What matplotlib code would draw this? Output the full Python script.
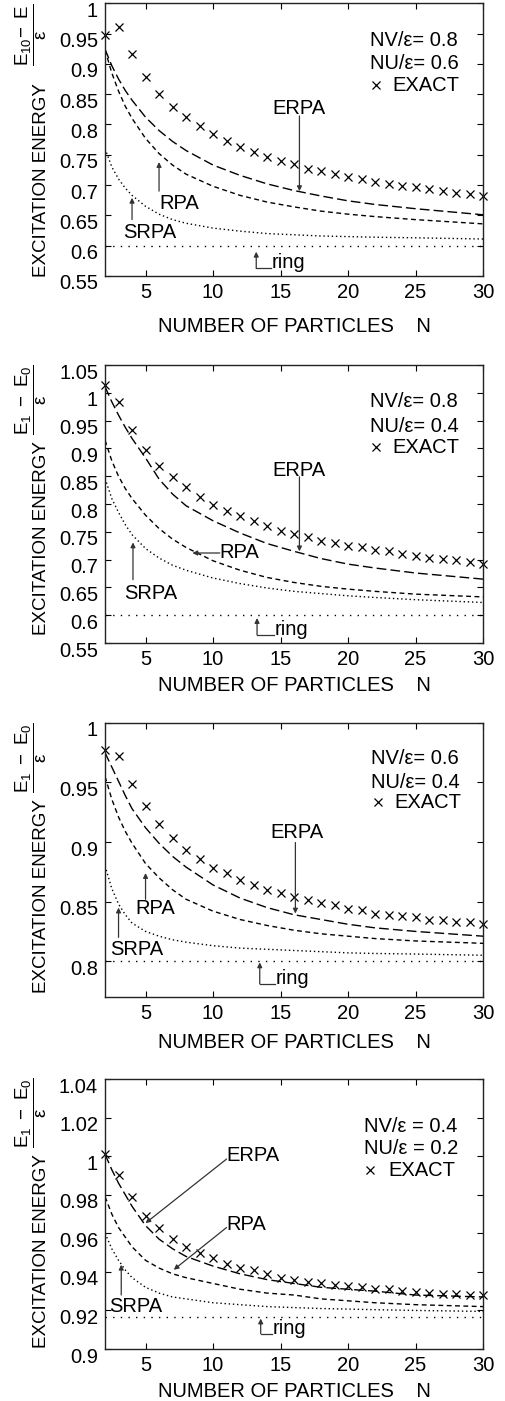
import numpy as np
import matplotlib
matplotlib.use('Agg')
import matplotlib.pyplot as plt
from matplotlib.ticker import FormatStrFormatter
from matplotlib.transforms import ScaledTranslation

plt.rcParams['font.family'] = ['Liberation Sans', 'DejaVu Sans']
plt.rcParams['mathtext.fontset'] = 'custom'
plt.rcParams['mathtext.rm'] = 'Liberation Sans'
plt.rcParams['mathtext.it'] = 'Liberation Sans'
plt.rcParams['mathtext.default'] = 'regular'

# particle numbers
n_exact = list(range(2, 31))
n_curve = [2, 2.5, 3, 3.5, 4, 5, 6, 7, 8, 10, 12, 14, 16, 18, 20, 22, 25, 30]

# panel 1: NV=0.8, NU=0.6
exact1 = [0.948, 0.961, 0.917, 0.879, 0.851, 0.829, 0.812, 0.797, 0.784, 0.773,
          0.763, 0.755, 0.747, 0.740, 0.734, 0.726, 0.723, 0.718, 0.714, 0.710,
          0.705, 0.702, 0.699, 0.696, 0.693, 0.690, 0.687, 0.685, 0.682]
erpa1 = [0.924, 0.897, 0.875, 0.856, 0.840, 0.812, 0.790, 0.772, 0.757, 0.733,
         0.716, 0.702, 0.691, 0.682, 0.674, 0.668, 0.661, 0.651]
rpa1 = [0.923, 0.885, 0.855, 0.830, 0.810, 0.777, 0.752, 0.733, 0.718, 0.698,
        0.683, 0.672, 0.664, 0.657, 0.652, 0.648, 0.643, 0.636]
srpa1 = [0.760, 0.730, 0.710, 0.695, 0.683, 0.665, 0.652, 0.643, 0.637, 0.629,
         0.624, 0.620, 0.618, 0.616, 0.615, 0.614, 0.613, 0.611]
ring1 = 0.6

# panel 2: NV=0.8, NU=0.4
exact2 = [1.014, 0.984, 0.934, 0.897, 0.869, 0.848, 0.830, 0.813, 0.798, 0.788,
          0.778, 0.769, 0.760, 0.752, 0.746, 0.740, 0.734, 0.730, 0.725, 0.722,
          0.718, 0.715, 0.710, 0.706, 0.703, 0.701, 0.699, 0.695, 0.692]
erpa2 = [1.011, 0.984, 0.960, 0.938, 0.918, 0.883, 0.845, 0.818, 0.797, 0.770,
         0.748, 0.729, 0.715, 0.702, 0.692, 0.685, 0.676, 0.665]
rpa2 = [0.915, 0.878, 0.850, 0.828, 0.810, 0.780, 0.756, 0.737, 0.722, 0.698,
        0.681, 0.668, 0.659, 0.652, 0.647, 0.643, 0.638, 0.633]
srpa2 = [0.846, 0.810, 0.785, 0.763, 0.745, 0.720, 0.703, 0.690, 0.681, 0.667,
         0.657, 0.649, 0.643, 0.639, 0.635, 0.632, 0.628, 0.623]
ring2 = 0.6

# panel 3: NV=0.6, NU=0.4
exact3 = [0.977, 0.972, 0.949, 0.930, 0.915, 0.903, 0.893, 0.886, 0.878, 0.874,
          0.868, 0.864, 0.860, 0.857, 0.854, 0.851, 0.849, 0.847, 0.844, 0.843,
          0.840, 0.839, 0.838, 0.837, 0.835, 0.835, 0.833, 0.833, 0.831]
erpa3 = [0.975, 0.963, 0.951, 0.939, 0.928, 0.912, 0.899, 0.888, 0.879, 0.864,
         0.853, 0.845, 0.839, 0.835, 0.831, 0.828, 0.825, 0.821]
rpa3 = [0.955, 0.936, 0.921, 0.909, 0.899, 0.882, 0.870, 0.860, 0.852, 0.842,
        0.835, 0.830, 0.826, 0.823, 0.821, 0.819, 0.817, 0.815]
srpa3 = [0.880, 0.861, 0.848, 0.839, 0.832, 0.825, 0.821, 0.818, 0.816, 0.813,
         0.811, 0.810, 0.809, 0.808, 0.807, 0.8065, 0.806, 0.805]
ring3 = 0.8

# panel 4: NV=0.4, NU=0.2
exact4 = [1.001, 0.990, 0.979, 0.969, 0.963, 0.957, 0.953, 0.950, 0.947, 0.944,
          0.942, 0.941, 0.939, 0.937, 0.936, 0.935, 0.934, 0.933, 0.9325, 0.932,
          0.931, 0.931, 0.930, 0.9296, 0.929, 0.9287, 0.9285, 0.928, 0.928]
erpa4 = [1.001, 0.993, 0.986, 0.980, 0.974, 0.964, 0.957, 0.952, 0.948, 0.943,
         0.939, 0.936, 0.934, 0.932, 0.931, 0.930, 0.928, 0.927]
rpa4 = [0.979, 0.970, 0.963, 0.958, 0.953, 0.946, 0.942, 0.939, 0.937, 0.934,
        0.931, 0.929, 0.928, 0.926, 0.925, 0.924, 0.923, 0.922]
srpa4 = [0.960, 0.952, 0.946, 0.941, 0.937, 0.932, 0.929, 0.927, 0.926, 0.924,
         0.923, 0.922, 0.9215, 0.921, 0.9207, 0.9204, 0.920, 0.9195]
ring4 = 0.9167

nv_labels = ['NV/\u03b5= 0.8', 'NV/\u03b5= 0.8', 'NV/\u03b5= 0.6', 'NV/\u03b5 = 0.4']
nu_labels = ['NU/\u03b5= 0.6', 'NU/\u03b5= 0.4', 'NU/\u03b5= 0.4', 'NU/\u03b5 = 0.2']
fractions = [r'$\dfrac{E_{10}\!-\ E}{\varepsilon}$',
             r'$\dfrac{E_1\ -\ E_0}{\varepsilon}$',
             r'$\dfrac{E_1\ -\ E_0}{\varepsilon}$',
             r'$\dfrac{E_1\ -\ E_0}{\varepsilon}$']

# layout / annotation placement (data coords)
ylims = [(0.55, 1.0), (0.55, 1.05), (0.77, 1.0), (0.9, 1.04)]
ysteps = [0.05, 0.05, 0.05, 0.02]
yticks0 = [0.55, 0.55, 0.8, 0.9]
boxes = [(0.208, 0.803, 0.7485, 0.1947), (0.208, 0.541, 0.7485, 0.1984),
         (0.208, 0.2884, 0.7485, 0.1956), (0.208, 0.0371, 0.7485, 0.1927)]
xlabelpads = [11, 5, 7, 5]
ylab_y = [0.352, 0.379, 0.369, 0.363]
frac_y = [0.884, 0.874, 0.872, 0.874]
legend_pos = [(21.6, 0.939, 0.901, 0.865, 22.1, 23.3),
              (21.6, 0.984, 0.940, 0.902, 22.1, 23.3),
              (21.7, 0.970, 0.950, 0.933, 22.2, 23.4),
              (21.2, 1.0155, 1.0042, 0.9925, 21.6, 22.96)]
# (label, text x, text y, ha, tail, tip)
notes = [
    [('ERPA', 16.4, 0.826, 'center', (16.4, 0.814), (16.4, 0.690)),
     ('RPA', 7.53, 0.669, 'center', (6.0, 0.690), (6.0, 0.738)),
     ('SRPA', 5.3, 0.622, 'center', (4.0, 0.643), (4.0, 0.679))],
    [('ERPA', 16.4, 0.860, 'center', (16.4, 0.849), (16.4, 0.715)),
     ('RPA', 10.5, 0.713, 'left', (10.5, 0.712), (8.47, 0.712)),
     ('SRPA', 5.4, 0.639, 'center', (4.07, 0.664), (4.07, 0.731))],
    [('ERPA', 16.2, 0.908, 'center', (16.1, 0.8996), (16.1, 0.840)),
     ('RPA', 5.75, 0.844, 'center', (5.0, 0.852), (5.0, 0.874)),
     ('SRPA', 4.37, 0.810, 'center', (3.0, 0.820), (3.0, 0.845))],
    [('ERPA', 11.0, 1.0003, 'left', (11.0, 0.9985), (5.0, 0.9653)),
     ('RPA', 11.0, 0.9648, 'left', (11.0, 0.963), (7.09, 0.9411)),
     ('SRPA', 4.3, 0.922, 'center', (3.2, 0.928), (3.2, 0.9437))],
]
ring_notes = [(13.2, 0.590, 0.5627, 14.3), (13.26, 0.595, 0.565, 14.5),
              (13.46, 0.799, 0.781, 14.6), (13.53, 0.9158, 0.908, 14.4)]

exacts = [exact1, exact2, exact3, exact4]
erpas = [erpa1, erpa2, erpa3, erpa4]
rpas = [rpa1, rpa2, rpa3, rpa4]
srpas = [srpa1, srpa2, srpa3, srpa4]
rings = [ring1, ring2, ring3, ring4]

fs = 13.5
tfs = 14.5
arrow_kw = dict(arrowstyle='-|>', color='#333333', lw=0.9, mutation_scale=7,
                shrinkA=0, shrinkB=0)

fig = plt.figure(figsize=(5.05, 14.01), dpi=100)
shift_down = ScaledTranslation(0, -6 / 100, fig.dpi_scale_trans)
for i in range(4):
    ax = fig.add_axes(boxes[i])
    ax.plot(n_curve, erpas[i], color='black', lw=1.0, dashes=(7, 3))
    ax.plot(n_curve, rpas[i], color='black', lw=1.0, dashes=(3.5, 2.5))
    ax.plot(n_curve, srpas[i], color='black', lw=1.0, dashes=(1, 2))
    ax.axhline(rings[i], color='black', lw=1.0, dashes=(1, 4.5))
    ax.plot(n_exact, exacts[i], 'x', color='black', ms=5.5, mew=0.9, clip_on=False)

    ax.set_xlim(2, 30)
    ax.set_ylim(*ylims[i])
    ax.set_xticks([5, 10, 15, 20, 25, 30])
    lo, hi = ylims[i]
    ax.set_yticks(np.arange(yticks0[i], hi + 1e-9, ysteps[i]))
    ax.yaxis.set_major_formatter(FormatStrFormatter('%g'))
    ax.tick_params(direction='in', top=True, right=True, length=4, width=0.8,
                   labelsize=tfs, pad=5)
    for lab in ax.get_yticklabels():
        lab.set_transform(lab.get_transform() + shift_down)
    for sp in ax.spines.values():
        sp.set_linewidth(1.0)
        sp.set_color('#222222')

    ax.set_xlabel('NUMBER OF PARTICLES    N', fontsize=tfs, labelpad=xlabelpads[i])
    ax.text(-0.167, ylab_y[i], 'EXCITATION ENERGY', transform=ax.transAxes,
            rotation=90, ha='center', va='center', fontsize=fs)
    ax.text(-0.195, frac_y[i], fractions[i], transform=ax.transAxes,
            rotation=90, ha='center', va='center', fontsize=fs)

    lx, ynv, ynu, yex, mx, tx = legend_pos[i]
    ax.text(lx, ynv, nv_labels[i], fontsize=tfs, va='center', ha='left')
    ax.text(lx, ynu, nu_labels[i], fontsize=tfs, va='center', ha='left')
    ax.plot([mx], [yex + 0.002 * (hi - lo)], 'x', color='black', ms=5.5, mew=0.9)
    ax.text(tx, yex, 'EXACT', fontsize=tfs, va='center', ha='left')

    for label, tx_, ty_, ha, tail, tip in notes[i]:
        ax.text(tx_, ty_, label, fontsize=tfs, ha=ha, va='center')
        ax.annotate('', xy=tip, xytext=tail, arrowprops=arrow_kw)

    rx, rtip, rcorner, rtext = ring_notes[i]
    ax.annotate('', xy=(rx, rtip), xytext=(rx, rcorner), arrowprops=arrow_kw)
    ax.plot([rx, rtext], [rcorner, rcorner], color='#333333', lw=0.9)
    ax.text(rtext + 0.05, rcorner, 'ring', fontsize=tfs, ha='left', va='baseline')

fig.savefig('out.png', dpi=100)
